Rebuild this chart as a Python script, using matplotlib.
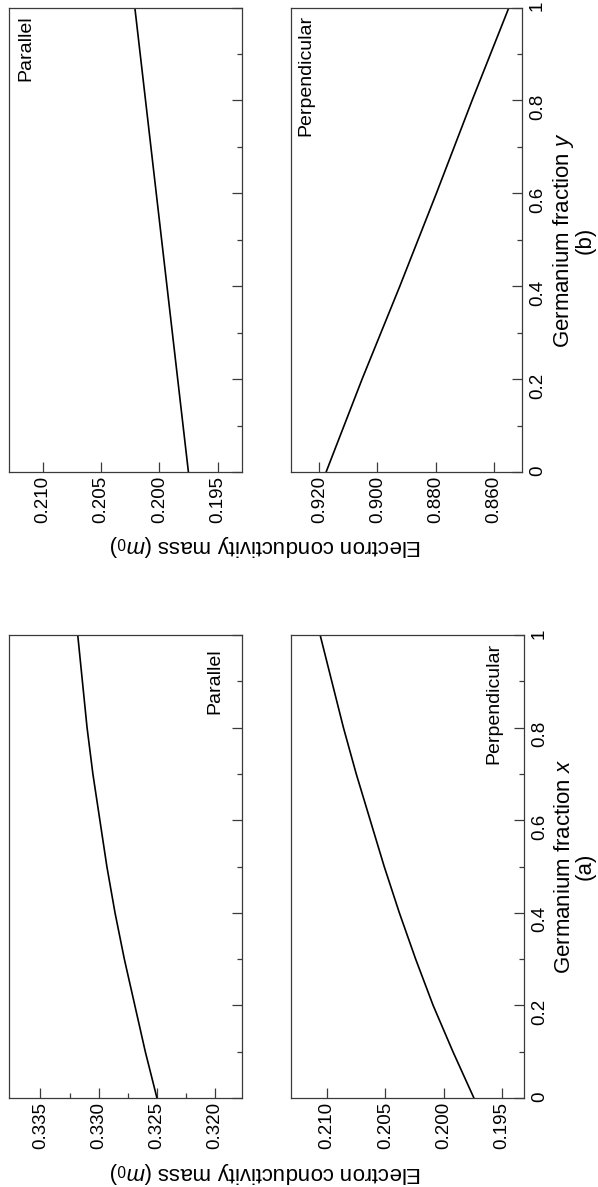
import matplotlib
matplotlib.use('Agg')
import matplotlib.pyplot as plt
from matplotlib.ticker import FixedLocator, FixedFormatter

plt.rcParams['font.family'] = ['Liberation Sans', 'DejaVu Sans']
plt.rcParams['mathtext.fontset'] = 'custom'
plt.rcParams['mathtext.rm'] = 'Liberation Sans'
plt.rcParams['mathtext.it'] = 'Liberation Sans:italic'

# germanium fraction readings (vertical axis in the rotated figure)
frac_fine = [0.0, 0.1, 0.2, 0.3, 0.4, 0.5, 0.6, 0.7, 0.8, 0.9, 1.0]
frac_coarse = [0.0, 0.2, 0.4, 0.6, 0.8, 1.0]
frac_lin = [0.0, 0.5, 1.0]

# (a) electron conductivity mass vs x
mass_a_par = [0.3250, 0.3260, 0.3269, 0.3278, 0.3286, 0.3293, 0.3299, 0.3305, 0.3310, 0.3314, 0.3318]
mass_a_perp = [0.1974, 0.1992, 0.2009, 0.2024, 0.2038, 0.2051, 0.2063, 0.2075, 0.2086, 0.2096, 0.2106]
# (b) electron conductivity mass vs y
mass_b_par = [0.1975, 0.1998, 0.2021]
mass_b_perp = [0.9177, 0.9053, 0.8923, 0.8797, 0.8674, 0.8547]

ticks_a_par = [0.335, 0.330, 0.325, 0.320]
ticks_a_perp = [0.210, 0.205, 0.200, 0.195]
ticks_b_par = [0.210, 0.205, 0.200, 0.195]
ticks_b_perp = [0.920, 0.900, 0.880, 0.860]
frac_ticks = [0.0, 0.2, 0.4, 0.6, 0.8, 1.0]
frac_labels = ['0', '0.2', '0.4', '0.6', '0.8', '1']

W, H = 598, 1187
fig = plt.figure(figsize=(W / 100, H / 100), dpi=100)
fig.patch.set_facecolor('white')

FS = 13.5   # tick labels
PFS = 14    # panel names
LFS = 16    # axis titles
SPINE = '#3a3a3a'


def px_rect(x0, y0, x1, y1):
    return [x0 / W, 1 - y1 / H, (x1 - x0) / W, (y1 - y0) / H]


def panel(rect, lim, ticks, fmt, minor, frac_labelled):
    ax = fig.add_axes(px_rect(*rect))
    ax.set_xlim(lim)
    ax.set_ylim(0, 1)
    ax.xaxis.set_major_locator(FixedLocator(ticks))
    ax.xaxis.set_major_formatter(FixedFormatter([fmt % t for t in ticks]))
    ax.xaxis.set_minor_locator(FixedLocator(minor))
    ax.yaxis.tick_right()
    ax.yaxis.set_major_locator(FixedLocator(frac_ticks))
    ax.yaxis.set_minor_locator(FixedLocator([0.1, 0.3, 0.5, 0.7, 0.9]))
    if frac_labelled:
        ax.yaxis.set_major_formatter(FixedFormatter(frac_labels))
    else:
        ax.yaxis.set_major_formatter(FixedFormatter([''] * 6))
    ax.tick_params(which='major', direction='in', length=7, width=0.9, color=SPINE)
    ax.tick_params(which='minor', direction='in', length=3.8, width=0.9, color=SPINE)
    ax.tick_params(axis='x', which='major', labelsize=FS, labelrotation=90, pad=3)
    ax.tick_params(axis='y', which='major', labelsize=FS, labelrotation=90, pad=5)
    for s in ax.spines.values():
        s.set_color(SPINE)
        s.set_linewidth(0.9)
    return ax


# (b) panels (top of image)
ax_bp = panel((9, 7.5, 242, 472), (0.2129, 0.1929), ticks_b_par, '%.3f', [], False)
ax_bp.plot(mass_b_par, frac_lin, color='black', lw=1.2)
ax_bp.text(0.073, 0.984, 'Parallel', transform=ax_bp.transAxes, rotation=90,
           ha='center', va='top', fontsize=PFS)

ax_bn = panel((291, 7.5, 522, 472), (0.9298, 0.8502), ticks_b_perp, '%.3f', [], True)
ax_bn.plot(mass_b_perp, frac_coarse, color='black', lw=1.2)
ax_bn.text(0.065, 0.984, 'Perpendicular', transform=ax_bn.transAxes, rotation=90,
           ha='center', va='top', fontsize=PFS)

# (a) panels (bottom of image)
ax_ap = panel((9, 635, 242, 1098), (0.3377, 0.3177), ticks_a_par, '%.3f',
              [0.3325, 0.3275, 0.3225], False)
ax_ap.plot(mass_a_par, frac_fine, color='black', lw=1.2)
ax_ap.text(0.884, 0.972, 'Parallel', transform=ax_ap.transAxes, rotation=90,
           ha='center', va='top', fontsize=PFS)

ax_an = panel((291, 635, 524, 1098), (0.2131, 0.1931), ticks_a_perp, '%.3f', [], True)
ax_an.plot(mass_a_perp, frac_fine, color='black', lw=1.2)
ax_an.text(0.871, 0.982, 'Perpendicular', transform=ax_an.transAxes, rotation=90,
           ha='center', va='top', fontsize=PFS)

# axis titles
ylab = r'Electron conductivity mass ($m_0$)'
fig.text(266 / W, 1 - 546 / H, ylab, rotation=180, ha='center', va='center', fontsize=LFS)
fig.text(266 / W, 1 - 1172 / H, ylab, rotation=180, ha='center', va='center', fontsize=LFS)

fig.text(564 / W, 1 - 240 / H, r'Germanium fraction $y$', rotation=90,
         ha='center', va='center', fontsize=LFS)
fig.text(585 / W, 1 - 240 / H, '(b)', rotation=90, ha='center', va='center', fontsize=LFS)
fig.text(564 / W, 1 - 866.5 / H, r'Germanium fraction $x$', rotation=90,
         ha='center', va='center', fontsize=LFS)
fig.text(585 / W, 1 - 866.5 / H, '(a)', rotation=90, ha='center', va='center', fontsize=LFS)

fig.savefig('out.png', dpi=100)
